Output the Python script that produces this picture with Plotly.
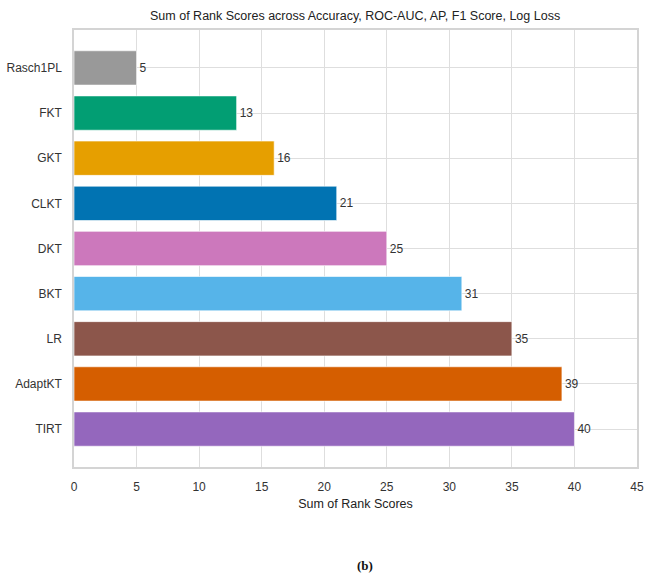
import plotly.graph_objects as go

models = ["Rasch1PL", "FKT", "GKT", "CLKT", "DKT", "BKT", "LR", "AdaptKT", "TIRT"]
scores = [5, 13, 16, 21, 25, 31, 35, 39, 40]
colors = ["#999999", "#029E73", "#E69F00", "#0173B2", "#CC78BC",
          "#56B4E9", "#8C564B", "#D55E00", "#9467BD"]
x_ticks = [0, 5, 10, 15, 20, 25, 30, 35, 40, 45]

title_text = "Sum of Rank Scores across Accuracy, ROC-AUC, AP, F1 Score, Log Loss"
xlabel = "Sum of Rank Scores"
caption = "(b)"

font_main = "Liberation Sans, Arial, sans-serif"
grid_c = "#dedede"

fig = go.Figure(go.Bar(
    y=models, x=scores, orientation="h",
    marker=dict(color=colors, line=dict(color="rgba(255,255,255,0.6)", width=1)),
    width=0.76,
    text=[str(s) for s in scores], textposition="outside",
    textfont=dict(family=font_main, size=12, color="#333333"),
    cliponaxis=False,
))

fig.update_layout(
    width=657, height=573,
    margin=dict(l=74, r=20, t=30, b=106),
    plot_bgcolor="white", paper_bgcolor="white",
    showlegend=False,
    font=dict(family=font_main, size=12, color="#333333"),
    title=dict(text=title_text, x=0.5405, xanchor="center", y=0.973, yanchor="middle",
               font=dict(family=font_main, size=12.5, color="#222222")),
    xaxis=dict(range=[0, 45], tickvals=x_ticks, showgrid=True, gridcolor=grid_c, gridwidth=1,
               zeroline=False, showline=True, linecolor="#d4d4d4", linewidth=1.5, mirror=True,
               ticks="outside", ticklen=8, tickcolor="rgba(0,0,0,0)", automargin=False,
               tickfont=dict(size=12, color="#333333"),
               title=dict(text=xlabel, standoff=6, font=dict(size=12.5, color="#222222"))),
    yaxis=dict(categoryorder="array", categoryarray=models, range=[8.84, -0.84],
               showgrid=True, gridcolor=grid_c, gridwidth=1, automargin=False,
               zeroline=False, showline=True, linecolor="#d4d4d4", linewidth=1.5, mirror=True,
               ticks="outside", ticklen=8, tickcolor="rgba(0,0,0,0)",
               tickfont=dict(size=12, color="#333333")),
    annotations=[dict(text="<b>" + caption + "</b>", xref="paper", yref="paper",
                      x=(365 - 74) / (657 - 94), y=-(565 - 467) / (467 - 30),
                      xanchor="center", yanchor="middle", showarrow=False,
                      font=dict(family="Liberation Serif, Times New Roman, serif", size=13,
                                color="#111111"))],
)

fig.write_html("out.html")
